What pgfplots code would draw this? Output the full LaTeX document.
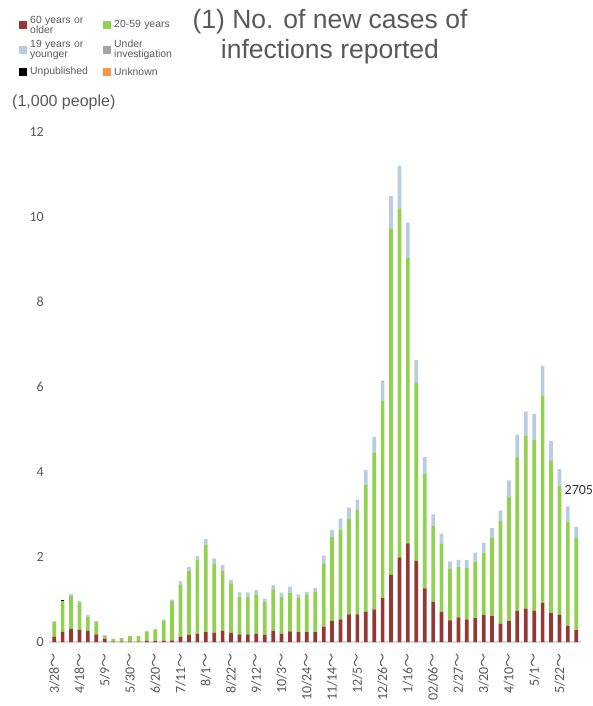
\documentclass[border=0pt]{standalone}
\usepackage{fontspec}
\setmainfont{Liberation Sans}
\newfontfamily\carlito{Carlito}
\newfontfamily\cjk{Noto Sans CJK JP}
\usepackage{pgfplots}
\pgfplotsset{compat=1.18}
\usepackage{pgfplotstable}

\definecolor{cOld}{RGB}{149,55,53}
\definecolor{cMid}{RGB}{146,208,80}
\definecolor{cYoung}{RGB}{184,204,228}
\definecolor{cInv}{RGB}{166,166,166}
\definecolor{cUnpub}{RGB}{0,0,0}
\definecolor{cUnk}{RGB}{247,150,70}
\definecolor{txt}{RGB}{89,89,89}

\pgfplotstableread{
x old mid young inv unpub unk
0 0.12 0.36 0.02 0 0 0
1 0.24 0.72 0.00 0 0.03 0
2 0.31 0.77 0.05 0 0 0
3 0.29 0.63 0.04 0 0 0
4 0.27 0.33 0.04 0 0 0
5 0.18 0.30 0.02 0 0 0
6 0.08 0.06 0.02 0 0 0
7 0.01 0.06 0.00 0 0 0
8 0.01 0.08 0.00 0 0 0
9 0.01 0.13 0.00 0 0 0
10 0.01 0.13 0.00 0 0 0
11 0.03 0.22 0.01 0 0 0
12 0.02 0.28 0.01 0 0 0
13 0.03 0.48 0.02 0 0 0
14 0.04 0.92 0.04 0 0 0
15 0.12 1.22 0.09 0 0 0
16 0.17 1.51 0.08 0 0 0
17 0.20 1.74 0.08 0 0 0
18 0.23 2.06 0.13 0 0 0
19 0.22 1.63 0.12 0 0 0
20 0.27 1.41 0.13 0 0 0
21 0.22 1.16 0.09 0 0 0
22 0.18 0.89 0.10 0 0 0
23 0.18 0.89 0.10 0 0 0
24 0.20 0.91 0.11 0 0 0
25 0.17 0.78 0.07 0 0 0
26 0.27 0.97 0.10 0 0 0
27 0.20 0.87 0.09 0 0 0
28 0.25 0.91 0.14 0 0 0
29 0.23 0.81 0.08 0 0 0
30 0.23 0.88 0.07 0 0 0
31 0.23 0.95 0.09 0 0 0
32 0.36 1.49 0.18 0 0 0
33 0.49 1.99 0.16 0 0 0
34 0.53 2.12 0.25 0 0 0
35 0.65 2.25 0.26 0 0 0
36 0.65 2.46 0.24 0 0 0
37 0.71 2.99 0.35 0 0 0
38 0.77 3.68 0.37 0 0 0
39 1.03 4.65 0.44 0 0 0.03
40 1.58 8.15 0.76 0 0 0
41 1.99 8.21 1.01 0 0 0
42 2.32 6.71 0.84 0 0 0
43 1.91 4.18 0.54 0 0 0
44 1.26 2.70 0.39 0 0 0
45 0.95 1.79 0.26 0 0 0
46 0.71 1.60 0.24 0 0 0
47 0.51 1.22 0.16 0 0 0
48 0.58 1.18 0.17 0 0 0
49 0.53 1.21 0.19 0 0 0
50 0.56 1.32 0.22 0 0 0
51 0.64 1.46 0.23 0 0 0
52 0.61 1.84 0.23 0 0 0
53 0.43 2.42 0.24 0 0 0
54 0.49 2.93 0.38 0 0 0
55 0.73 3.62 0.53 0 0 0
56 0.78 4.07 0.57 0 0 0
57 0.73 4.04 0.59 0 0 0
58 0.92 4.87 0.70 0 0 0
59 0.68 3.58 0.47 0 0 0
60 0.64 3.03 0.40 0 0 0
61 0.38 2.45 0.36 0 0 0
62 0.28 2.17 0.26 0 0 0
}\data

\newcommand{\wv}{{\cjk ～}}
\pgfplotsset{sq/.style={legend image code/.code={\fill[##1] (0pt,-4pt) rectangle (8pt,4pt);}}}

\begin{document}
\begin{tikzpicture}
\useasboundingbox (0,0) rectangle (593pt,706pt);
\node[font=\fontsize{26.5}{30}\selectfont, text=txt, align=center] at (330pt,669pt) {(1) No. of new cases of\\infections reported};
\node[anchor=west, inner sep=0pt, font=\fontsize{16}{18}\selectfont, text=txt] at (12pt,604pt) {(1,000 people)};
\begin{axis}[
  at={(50pt,64pt)}, anchor=south west,
  scale only axis, width=530.5pt, height=510pt,
  xmin=-0.5, xmax=62.5, ymin=0, ymax=12,
  ybar stacked, bar width=0.44,
  clip=false,
  axis line style={draw=none},
  major tick style={draw=none},
  ytick={0,2,...,12},
  xtick={0,3,...,60},
  xticklabels={3/28\wv,4/18\wv,5/9\wv,5/30\wv,6/20\wv,7/11\wv,8/1\wv,8/22\wv,9/12\wv,10/3\wv,10/24\wv,11/14\wv,12/5\wv,12/26\wv,1/16\wv,02/06\wv,2/27\wv,3/20\wv,4/10\wv,5/1\wv,5/22\wv},
  /pgf/number format/assume math mode=true,
  yticklabel style={font=\carlito\fontsize{14}{16}\selectfont, text=txt, inner sep=2pt, xshift=-4pt},
  xticklabel style={font=\carlito\fontsize{14}{16}\selectfont, text=txt, rotate=90, anchor=east, inner sep=0pt},
  xticklabel shift=11pt,
  legend columns=2,
  legend style={at={(-0.0584,1.2294)}, anchor=north west, draw=none, fill=none,
    inner sep=0pt, row sep=5pt,
    font=\fontsize{10.4}{9.8}\selectfont, text=txt,
    nodes={anchor=west, text depth={}, text height={}, inner xsep=3pt, inner ysep=1pt, text width=62pt, align=left},
    /tikz/every even column/.append style={column sep=8pt}},
]
\addplot[fill=cOld, draw=none, sq] table[x=x, y=old] {\data};
\addlegendentry{60 years or\\older}
\addplot[fill=cMid, draw=none, sq] table[x=x, y=mid] {\data};
\addlegendentry{20-59 years}
\addplot[fill=cYoung, draw=none, sq] table[x=x, y=young] {\data};
\addlegendentry{19 years or\\younger}
\addplot[fill=cInv, draw=none, sq] table[x=x, y=inv] {\data};
\addlegendentry{Under\\investigation}
\addplot[fill=cUnpub, draw=none, sq] table[x=x, y=unpub] {\data};
\addlegendentry{Unpublished}
\addplot[fill=cUnk, draw=none, sq] table[x=x, y=unk] {\data};
\addlegendentry{Unknown}
\draw[color=black!15, line width=1.5pt] (axis cs:-0.5,0) -- (axis cs:62.5,0);
\node[anchor=west, inner sep=0pt, font=\carlito\fontsize{14}{16}\selectfont, text=black!80] at (axis cs:60.6,3.58) {2705};
\end{axis}
\end{tikzpicture}
\end{document}
